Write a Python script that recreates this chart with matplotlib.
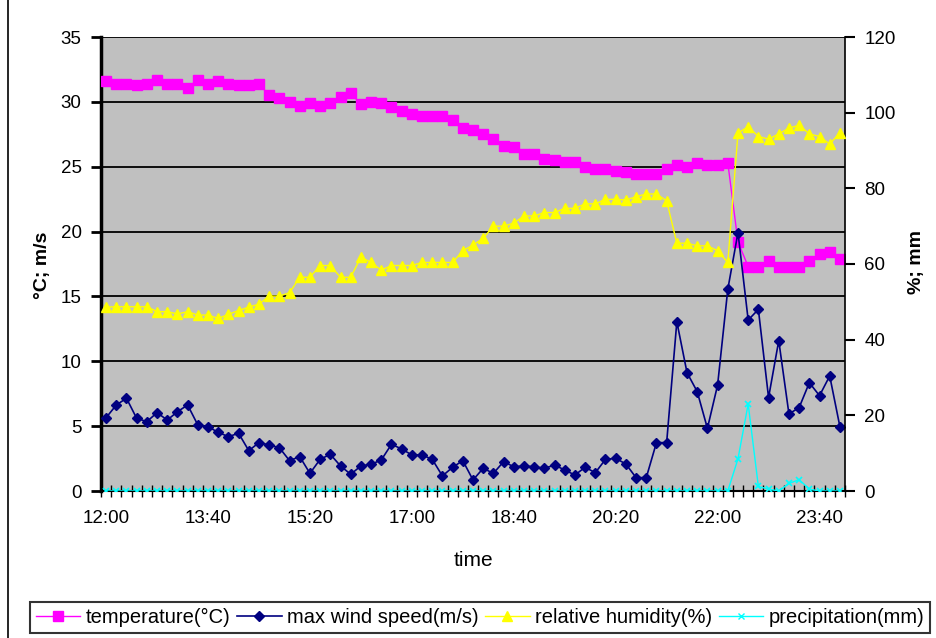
import matplotlib.pyplot as plt
import numpy as np
from matplotlib.lines import Line2D

plt.rcParams['font.family'] = ['Liberation Sans', 'DejaVu Sans']

# 10분 간격 관측값, 12:00 ~ 24:00 (73개)
temperature = [31.6, 31.4, 31.4, 31.3, 31.4, 31.7, 31.4, 31.4, 31.1, 31.7,
               31.4, 31.6, 31.4, 31.3, 31.3, 31.4, 30.5, 30.3, 30.0, 29.7,
               29.9, 29.7, 29.9, 30.4, 30.7, 29.8, 30.0, 29.9, 29.6, 29.3,
               29.1, 28.9, 28.9, 28.9, 28.6, 28.0, 27.8, 27.5, 27.1, 26.6,
               26.5, 26.0, 26.0, 25.6, 25.5, 25.4, 25.4, 25.0, 24.8, 24.8,
               24.7, 24.6, 24.4, 24.4, 24.4, 24.8, 25.1, 25.0, 25.3, 25.1,
               25.1, 25.3, 19.2, 17.3, 17.3, 17.7, 17.3, 17.3, 17.3, 17.7,
               18.3, 18.4, 17.9]

wind = [5.65, 6.63, 7.15, 5.6, 5.35, 6.04, 5.47, 6.11, 6.63, 5.09,
        4.96, 4.52, 4.19, 4.45, 3.11, 3.73, 3.55, 3.34, 2.34, 2.65,
        1.36, 2.44, 2.83, 1.93, 1.29, 1.93, 2.06, 2.39, 3.6, 3.24,
        2.78, 2.78, 2.44, 1.16, 1.83, 2.34, 0.85, 1.75, 1.36, 2.26,
        1.87, 1.93, 1.87, 1.75, 2.0, 1.62, 1.23, 1.83, 1.41, 2.44,
        2.52, 2.08, 1.03, 1.03, 3.73, 3.73, 13.05, 9.12, 7.66, 4.83,
        8.17, 15.55, 19.92, 13.18, 14.0, 7.2, 11.59, 5.94, 6.43, 8.35,
        7.35, 8.87, 4.96]

humidity = [48.6, 48.7, 48.7, 48.7, 48.7, 47.4, 47.4, 46.8, 47.4, 46.5,
            46.5, 45.6, 46.7, 47.7, 48.6, 49.4, 51.5, 51.5, 52.4, 56.5,
            56.5, 59.6, 59.6, 56.5, 56.5, 61.8, 60.4, 58.4, 59.6, 59.6,
            59.6, 60.4, 60.4, 60.4, 60.4, 63.5, 65.0, 66.8, 70.0, 70.0,
            70.8, 72.7, 72.7, 73.6, 73.6, 74.7, 74.7, 75.9, 75.9, 77.1,
            77.1, 76.9, 77.8, 78.5, 78.5, 76.7, 65.5, 65.5, 64.8, 64.8,
            63.5, 60.4, 94.6, 96.3, 93.7, 93.0, 94.4, 95.9, 96.7, 94.4,
            93.7, 91.7, 94.7]

precip = [0, 0, 0, 0, 0, 0, 0, 0, 0, 0,
          0, 0, 0, 0, 0, 0, 0, 0, 0, 0,
          0, 0, 0, 0, 0, 0, 0, 0, 0, 0,
          0, 0, 0, 0, 0, 0, 0, 0, 0, 0,
          0, 0, 0, 0, 0, 0, 0, 0, 0, 0,
          0, 0, 0, 0, 0, 0, 0, 0, 0, 0,
          0, 0, 8.5, 23.0, 1.2, 0.5, 0, 2.0, 3.0, 0.5,
          0, 0, 0]

tick_labels = ['12:00', '13:40', '15:20', '17:00', '18:40', '20:20', '22:00', '23:40']

W, H = 937, 638
fig = plt.figure(figsize=(W / 100, H / 100), dpi=100)

# 그림 테두리 (왼쪽 선)
fig.add_artist(Line2D([8 / W, 8 / W], [0, 1], color='black', lw=1.2))

ax = fig.add_axes([101 / W, 1 - 491 / H, 744 / W, 454 / H])
ax.set_facecolor('#c0c0c0')
x = np.arange(len(temperature))

ax.grid(axis='y', color='black', lw=1.3)
ax.set_axisbelow(True)
ax.plot(x, temperature, color='#ff00ff', marker='s', ms=7.5, lw=1, zorder=3)
ax.plot(x, wind, color='#000080', marker='D', ms=5, lw=1.2, zorder=3)
ax.set_ylim(0, 35)
ax.set_yticks(range(0, 36, 5))
ax.set_xlim(-0.5, len(temperature) - 0.5)

ax.set_xticks(range(0, 71, 10))
ax.set_xticklabels(tick_labels)
ax.set_xticks(np.arange(-0.5, len(temperature), 1), minor=True)
ax.tick_params(axis='x', which='major', length=0, pad=14, labelsize=13.5)
ax.tick_params(axis='x', which='minor', direction='inout', length=8, width=1)
ax.tick_params(axis='y', direction='out', length=7, width=2, labelsize=13.5, pad=7)

for s in ['top', 'right']:
    ax.spines[s].set_visible(False)
ax.spines['left'].set_linewidth(2.5)
ax.spines['bottom'].set_linewidth(1.5)

ax2 = ax.twinx()
ax2.plot(x, humidity, color='#ffff00', marker='^', ms=7, lw=1, zorder=3)
ax2.plot(x, precip, color='#00ffff', marker='x', ms=5, mew=1.2, lw=1, zorder=3)
ax2.set_ylim(0, 120)
ax2.set_yticks(range(0, 121, 20))
ax2.tick_params(axis='y', direction='out', length=7, width=1.5, labelsize=13.5, pad=7)
for s in ['top', 'left', 'bottom']:
    ax2.spines[s].set_visible(False)
ax2.spines['right'].set_linewidth(1.2)

fig.text(43 / W, 1 - 265 / H, '°C; m/s', rotation=90, ha='center', va='center',
         fontsize=14, fontweight='bold')
fig.text(917 / W, 1 - 262 / H, '%; mm', rotation=90, ha='center', va='center',
         fontsize=14, fontweight='bold')
fig.text(473 / W, 1 - 560 / H, 'time', ha='center', va='center', fontsize=15)

handles = [
    Line2D([], [], color='#ff00ff', marker='s', ms=7, lw=1),
    Line2D([], [], color='#000080', marker='D', ms=5, lw=1.2),
    Line2D([], [], color='#ffff00', marker='^', ms=7, lw=1),
    Line2D([], [], color='#00ffff', marker='x', ms=5, lw=1),
]
labels = ['temperature(°C)', 'max wind speed(m/s)', 'relative humidity(%)',
          'precipitation(mm)']
leg = fig.legend(handles, labels, ncol=4, loc='lower left',
                 bbox_to_anchor=(30 / W, 1 - 633 / H, 900 / W, 35 / H),
                 mode='expand', fontsize=14.5, frameon=True, fancybox=False,
                 handlelength=2.2, handletextpad=0.25, columnspacing=0.4,
                 borderpad=0.3, borderaxespad=0)
leg.get_frame().set_edgecolor('black')
leg.get_frame().set_linewidth(1.5)

fig.savefig('out.png', dpi=100)
